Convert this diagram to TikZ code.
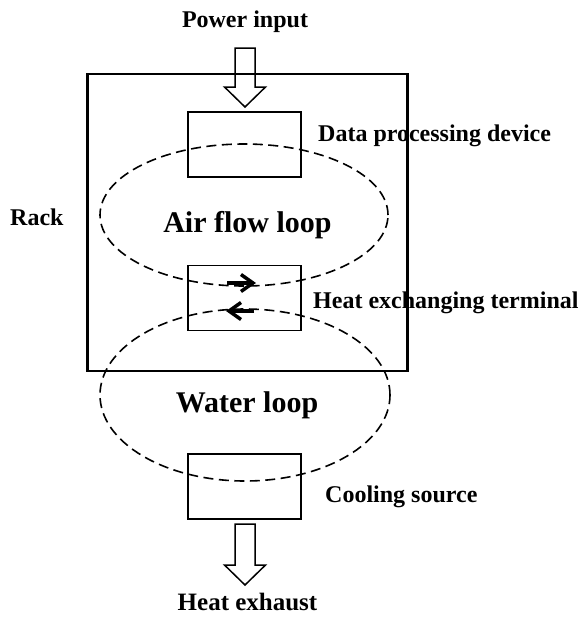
\documentclass[tikz,border=0pt]{standalone}
\usepackage{fontspec}
\setmainfont{Liberation Serif}
\usetikzlibrary{shapes.geometric,arrows.meta}
\begin{document}
\begin{tikzpicture}[x=1pt,y=-1pt,
  box/.style={draw,line width=1.5pt,minimum width=113pt,minimum height=65pt,inner sep=0pt},
  loop/.style={draw,line width=1.6pt,dash pattern=on 10pt off 5.5pt},
  lbl/.style={font=\bfseries\fontsize{24}{28}\selectfont,inner sep=0pt,anchor=base west},
  mid/.style={font=\bfseries\fontsize{24}{28}\selectfont,inner sep=0pt,anchor=base},
  big/.style={font=\bfseries\fontsize{30}{34}\selectfont,inner sep=0pt,anchor=base},
  fat/.style={draw,line width=1.5pt},
  flow/.style={line width=3.2pt,-{Straight Barb[length=12pt,width=17pt,line width=3.5pt]}}]
\useasboundingbox (0,0) rectangle (585,622);
\node[draw,line width=2.2pt,minimum width=320pt,minimum height=297pt,inner sep=0pt] (rack) at (247.5,222.5) {};
\node[box] (dpd) at (244.5,144.5) {};
\node[box] (het) at (244.5,298) {};
\node[box] (cool) at (244.5,486.5) {};
\node[loop,ellipse,minimum width=288pt,minimum height=142pt,inner sep=0pt] (air) at (244,215) {};
\node[loop,ellipse,minimum width=290pt,minimum height=172pt,inner sep=0pt] (water) at (245,395) {};
\node[big] (airt) at (247.5,232) {Air flow loop};
\node[big] (watert) at (247,412) {Water loop};
\node[mid] (pin) at (245,27) {Power input};
\node[mid,font=\bfseries\fontsize{25}{29}\selectfont] (hex) at (247.5,610) {Heat exhaust};
\node[lbl] (dpdt) at (318,141) {Data processing device};
\node[lbl] (hett) at (313,308) {Heat exchanging terminal};
\node[lbl] (coolt) at (325,502) {Cooling source};
\node[lbl] (rackt) at (10,225) {Rack};
\coordinate (a1) at (227,283);
\coordinate (a2) at (256,283);
\coordinate (b1) at (254,311);
\coordinate (b2) at (226,311);
\draw[flow] (a1) -- (a2);
\draw[flow] (b1) -- (b2);
\draw[fat] (235,48) -- (255,48) -- (255,87) -- (265.5,87) -- (245,107) -- (224.5,87) -- (235,87) -- cycle;
\draw[fat] (235,524) -- (255,524) -- (255,565) -- (265.5,565) -- (245,585) -- (224.5,565) -- (235,565) -- cycle;
\end{tikzpicture}
\end{document}
